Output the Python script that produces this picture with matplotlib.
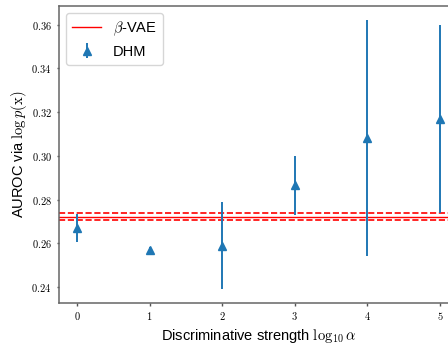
import matplotlib
matplotlib.use('Agg')
import matplotlib.pyplot as plt
from matplotlib.ticker import FuncFormatter

plt.rcParams['font.family'] = ['Liberation Sans', 'DejaVu Sans']
plt.rcParams['mathtext.fontset'] = 'cm'

log_alpha = [0, 1, 2, 3, 4, 5]
dhm_auroc = [0.267, 0.257, 0.259, 0.2865, 0.308, 0.3167]
dhm_err = [0.0063, 0.0012, 0.020, 0.0135, 0.054, 0.043]
vae_auroc = 0.2722
vae_err = 0.0015

fig = plt.figure(figsize=(4.48, 3.44), dpi=100)
ax = fig.add_axes([0.1317, 0.1192, 0.8906, 0.8634])

ax.axhline(vae_auroc, color='red', lw=1.0, label=r'$\beta$-VAE')
ax.axhline(vae_auroc + vae_err, color='red', lw=1.2, ls='--')
ax.axhline(vae_auroc - vae_err, color='red', lw=1.2, ls='--')
ax.errorbar(log_alpha, dhm_auroc, yerr=dhm_err, fmt='^', color='#1f77b4',
            ms=5.5, elinewidth=1.4, label='DHM')

ax.set_xlim(-0.25, 5.25)
ax.set_ylim(0.2327, 0.3686)
ax.set_yticks([0.24, 0.26, 0.28, 0.30, 0.32, 0.34, 0.36])
ax.set_xticks(log_alpha)
ax.yaxis.set_major_formatter(FuncFormatter(lambda v, p: f'${v:.2f}$'))
ax.xaxis.set_major_formatter(FuncFormatter(lambda v, p: f'${v:.0f}$'))
ax.tick_params(labelsize=7.5, color='#555555', length=1.8, width=1.0)
for s in ax.spines.values():
    s.set_color('#666666')
    s.set_linewidth(1.1)
ax.spines['right'].set_visible(False)

ax.set_xlabel(r'Discriminative strength $\log_{10}\alpha$', fontsize=10.5, labelpad=3)
ax.set_ylabel(r'AUROC via $\log p(\mathrm{x})$', fontsize=10.5, labelpad=2)
ax.legend(loc='upper left', fontsize=10.5)

fig.savefig('out.png', dpi=100)
